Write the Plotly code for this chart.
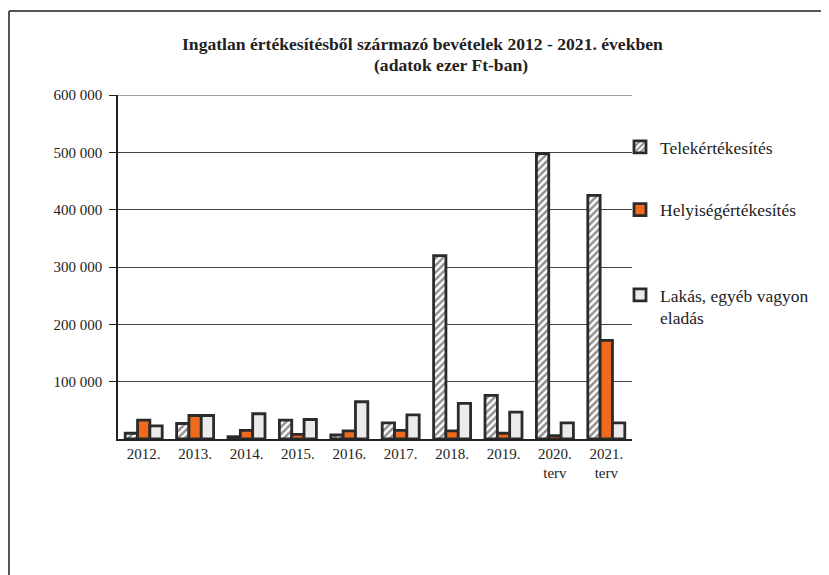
import plotly.graph_objects as go

categories = ["2012.", "2013.", "2014.", "2015.", "2016.", "2017.", "2018.", "2019.", "2020.<br>terv", "2021.<br>terv"]
telek = [10000, 27000, 4000, 33000, 7000, 28000, 320000, 76000, 498000, 425000]
helyiseg = [33000, 41000, 15000, 8000, 14000, 15000, 14000, 10000, 6000, 172000]
lakas = [23000, 41000, 44000, 34000, 65000, 42000, 62000, 47000, 28000, 28000]
series_names = ["Telekértékesítés", "Helyiségértékesítés", "Lakás, egyéb vagyon<br>eladás"]
y_tickvals = [100000, 200000, 300000, 400000, 500000, 600000]
y_ticktext = ["100 000", "200 000", "300 000", "400 000", "500 000", "600 000"]
title_line1 = "Ingatlan értékesítésből származó bevételek 2012 - 2021. években"
title_line2 = "(adatok ezer Ft-ban)"

# page body has an 8px margin; work in window pixels and convert
OFF = 8
W, H = 829 - OFF, 575 - OFF
L, R, T, B = 118 - OFF, 632 - OFF, 95 - OFF, 439 - OFF
serif = "Liberation Serif"
outline = dict(color="#2b2b2b", width=2.8)

fig = go.Figure()
fig.add_trace(go.Bar(
    x=categories, y=telek, name=series_names[0], legendgroup="a", legend="legend",
    marker=dict(color="white", line=outline,
                pattern=dict(shape="/", fgcolor="#222222", bgcolor="white", size=5, solidity=0.5)),
))
fig.add_trace(go.Bar(
    x=categories, y=helyiseg, name=series_names[1], legendgroup="b", legend="legend",
    marker=dict(color="#ef6a1c", line=outline),
))
fig.add_trace(go.Bar(
    x=categories, y=lakas, name=series_names[2], legendgroup="c", legend="legend2",
    marker=dict(color="#ebebeb", line=outline),
))

def px_x(px):
    return (px - OFF - L) / (R - L)

def px_y(py):
    return (B - (py - OFF)) / (B - T)

shapes = [
    dict(type="line", xref="paper", yref="paper", x0=px_x(9), x1=px_x(829), y0=px_y(11), y1=px_y(11),
         line=dict(color="#555555", width=2)),
    dict(type="line", xref="paper", yref="paper", x0=px_x(9), x1=px_x(9), y0=px_y(11), y1=px_y(575),
         line=dict(color="#555555", width=2)),
    # top gridline (plotly omits the grid line at the range edge)
    dict(type="line", xref="paper", yref="y", x0=0, x1=1, y0=y_tickvals[-1], y1=y_tickvals[-1],
         line=dict(color="#444", width=1), layer="below"),
]

annotations = [
    dict(text="<b>" + title_line1 + "</b>", xref="paper", yref="paper", x=px_x(422), y=px_y(44),
         showarrow=False, xanchor="center", yanchor="middle", font=dict(family=serif, size=17.6, color="#222")),
    dict(text="<b>" + title_line2 + "</b>", xref="paper", yref="paper", x=px_x(451), y=px_y(65),
         showarrow=False, xanchor="center", yanchor="middle", font=dict(family=serif, size=17.6, color="#222")),
]

legend_common = dict(xanchor="left", yanchor="top", font=dict(family=serif, size=17.5, color="#222"),
                     valign="top", itemwidth=30, bgcolor="rgba(0,0,0,0)")

fig.update_layout(
    width=W, height=H,
    margin=dict(l=L, r=W - R, t=T, b=H - B, autoexpand=False),
    paper_bgcolor="white", plot_bgcolor="white",
    barmode="group", bargap=0.28, bargroupgap=0,
    font=dict(family=serif, size=15, color="#222"),
    shapes=shapes, annotations=annotations,
    legend=dict(x=px_x(620), y=px_y(129), tracegroupgap=37, **legend_common),
    legend2=dict(x=px_x(620), y=px_y(277), **legend_common),
    showlegend=True,
)
fig.update_xaxes(showline=True, linecolor="#222", linewidth=1.5, ticks="", showgrid=False,
                 tickfont=dict(family=serif, size=15, color="#222"))
fig.update_yaxes(range=[0, 600000], tickvals=y_tickvals, ticktext=y_ticktext,
                 showline=True, linecolor="#222", linewidth=1.5, ticks="outside", ticklen=7,
                 ticklabelstandoff=4,
                 tickcolor="#222", showgrid=True, gridcolor="#444", gridwidth=1, zeroline=False,
                 tickfont=dict(family=serif, size=15, color="#222"))

fig.write_html("out.html")
